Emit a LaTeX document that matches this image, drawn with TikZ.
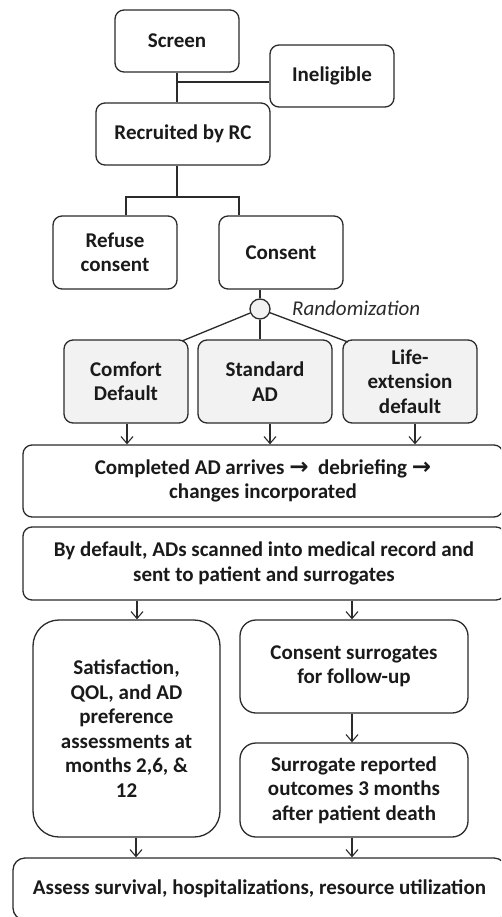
\documentclass[tikz,border=0pt]{standalone}
\usepackage{fontspec}
\setmainfont{Carlito}
\newfontfamily\arrfont{DejaVu Sans}
\usetikzlibrary{arrows.meta}
\definecolor{ln}{HTML}{2B2B2B}
\definecolor{tx}{HTML}{1A1A1A}
\definecolor{shade}{HTML}{F2F2F2}
\newcommand{\rarr}{{\arrfont\bfseries\fontsize{23}{20}\selectfont →}}
\begin{document}
\begin{tikzpicture}[x=1pt,y=-1pt,
  box/.style={draw=ln, line width=1.3pt, rounded corners=9pt, align=center, inner sep=0pt,
    font=\fontsize{21}{24.5}\selectfont\bfseries, text=tx, fill=white},
  armbox/.style={box, fill=shade},
  conn/.style={draw=ln, line width=1.3pt},
  arr/.style={conn, -{Straight Barb[length=7pt,width=12pt,line width=1.1pt]}}]
\useasboundingbox (0,0) rectangle (501,917);
\clip (0,0) rectangle (501,917);
\fill[white] (0,0) rectangle (501,917);

\coordinate (j1) at (177,82);
\coordinate (bL) at (126,197);
\coordinate (bM) at (177,197);
\coordinate (bR) at (239,197);
\coordinate (cL) at (182,341);
\coordinate (cR) at (348,342);

\node[box, minimum width=124pt, minimum height=62pt] (screen) at (177,41) {Screen};
\node[box, minimum width=124pt, minimum height=62pt] (inel) at (332,76) {Ineligible};
\node[box, minimum width=174pt, minimum height=62pt] (recr) at (183,134) {Recruited by RC};
\node[box, minimum width=124pt, minimum height=73pt] (refuse) at (115,252.5) {Refuse\\consent};
\node[box, minimum width=124pt, minimum height=73pt] (consent) at (281,252.5) {Consent};
\node[draw=ln, line width=1.3pt, circle, fill=shade, minimum size=20pt, inner sep=0pt] (rnd) at (260,309) {};
\node[anchor=west, inner sep=0pt, font=\fontsize{21}{24}\selectfont\itshape, text=ln] (rtxt) at (292,308) {Randomization};
\node[armbox, minimum width=124pt, minimum height=83pt] (comfort) at (126,381.5) {Comfort\\Default};
\node[armbox, minimum width=134pt, minimum height=83pt] (standard) at (265,381.5) {Standard\\AD};
\node[armbox, minimum width=134pt, minimum height=83pt] (life) at (410,381.5) {Life-\\extension\\default};
\node[box, minimum width=480pt, minimum height=72pt] (completed) at (263,481) {Completed AD arrives \rarr\ \ debriefing \rarr\\changes incorporated};
\node[box, minimum width=482pt, minimum height=73pt] (bydef) at (264,563.5) {By default, ADs scanned into medical record and\\sent to patient and surrogates};
\node[box, rounded corners=26pt, minimum width=187pt, minimum height=217pt] (satis) at (126.5,728.5) {Satisfaction,\\QOL, and AD\\preference\\assessments at\\months 2,6, \&\\12};
\node[box, rounded corners=16pt, minimum width=228pt, minimum height=93pt] (csurr) at (354,666.5) {Consent surrogates\\for follow-up};
\node[box, rounded corners=16pt, minimum width=228pt, minimum height=94pt] (srep) at (354,790) {Surrogate reported\\outcomes 3 months\\after patient death};
\node[box, rounded corners=12pt, minimum width=493pt, minimum height=62pt] (assess) at (259.5,889) {Assess survival, hospitalizations, resource utilization};

\draw[conn] (screen.south -| j1) -- (recr.north -| j1);
\draw[conn] (j1) -- (j1 -| inel.west);
\draw[conn] (recr.south -| bM) -- (bM);
\draw[conn] (refuse.north -| bL) -- (bL) -- (bR) -- (consent.north -| bR);
\draw[conn] (consent.south -| rnd) -- (rnd.north);
\draw[conn] (rnd) -- (cL);
\draw[conn] (rnd) -- (cR);
\draw[conn] (rnd.south) -- (standard.north -| rnd);

\coordinate (a1) at (127,0);
\coordinate (a2) at (270,0);
\coordinate (a3) at (415,0);
\draw[arr] (comfort.south -| a1) -- (completed.north -| a1);
\draw[arr] (standard.south -| a2) -- (completed.north -| a2);
\draw[arr] (life.south -| a3) -- (completed.north -| a3);

\coordinate (b1) at (137,0);
\coordinate (b2) at (352,0);
\coordinate (b3) at (136,0);
\draw[arr] (bydef.south -| b1) -- (satis.north -| b1);
\draw[arr] (bydef.south -| b2) -- (csurr.north -| b2);
\draw[arr] (csurr.south -| b2) -- (srep.north -| b2);
\draw[arr] (satis.south -| b3) -- (assess.north -| b3);
\draw[arr] (srep.south -| b2) -- (assess.north -| b2);
\end{tikzpicture}
\end{document}
